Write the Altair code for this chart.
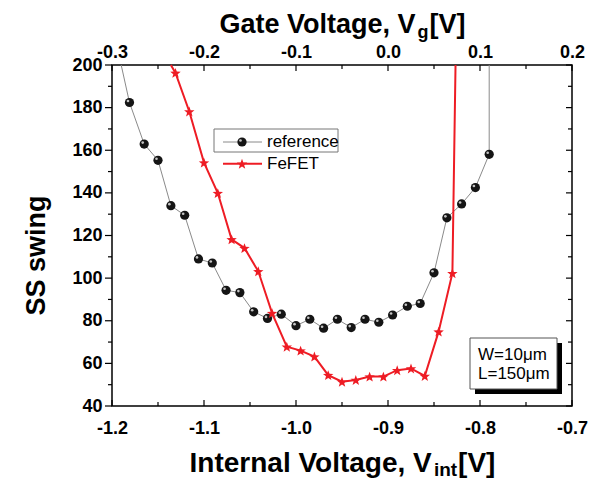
import math
import altair as alt
import pandas as pd

# ---------------- data ----------------
ref_x = [-1.181, -1.165, -1.150, -1.136, -1.121, -1.106, -1.091, -1.076, -1.061,
         -1.046, -1.031, -1.016, -1.000, -0.985, -0.970, -0.955, -0.940, -0.925,
         -0.910, -0.895, -0.879, -0.865, -0.850, -0.836, -0.820, -0.805, -0.790]
ref_y = [182.4, 162.9, 155.3, 134.0, 129.5, 109.0, 107.1, 94.3, 93.2,
         84.2, 81.1, 83.1, 77.7, 80.7, 76.5, 80.7, 76.8, 80.7,
         79.3, 82.7, 86.8, 88.1, 102.5, 128.3, 134.8, 142.5, 158.1]
ref_line_start = [-1.190, 200.0]
ref_line_end = [-0.790, 200.0]

fefet_x = [-1.131, -1.116, -1.100, -1.085, -1.070, -1.056, -1.041, -1.026, -1.010,
           -0.995, -0.980, -0.965, -0.950, -0.935, -0.920, -0.905, -0.890, -0.875,
           -0.860, -0.845, -0.830]
fefet_y = [196.3, 178.2, 154.2, 139.9, 118.2, 114.1, 103.2, 83.6, 67.8,
           66.0, 63.2, 54.5, 51.4, 52.2, 53.8, 53.8, 56.8, 57.6,
           54.1, 74.9, 102.3]
fefet_line_start = [-1.136, 200.0]
fefet_line_end = [-0.8266, 200.0]

series_names = ["reference", "FeFET"]
x_major = [-1.2, -1.1, -1.0, -0.9, -0.8, -0.7]
x_minor = [-1.15, -1.05, -0.95, -0.85, -0.75]
y_major = [40, 60, 80, 100, 120, 140, 160, 180, 200]
y_minor = [50, 70, 90, 110, 130, 150, 170, 190]
gate_offset = 0.9  # top axis: Vg = Vint + 0.9
box_lines = ["W=10\u03bcm", "L=150\u03bcm"]

# ---------------- layout / style ----------------
W, H = 460, 341
FONT = "Liberation Sans"
RED = "#ee1c24"
GREY = "#8a8a8a"
xs = alt.Scale(domain=[-1.2, -0.7], nice=False, zero=False)
ys = alt.Scale(domain=[40, 200], nice=False, zero=False)

# Arial-bold advance widths (em) for title layout
AW = {"I": .278, "n": .611, "t": .333, "e": .556, "r": .389, "a": .556, "l": .278,
      " ": .278, "V": .667, "o": .611, "g": .611, ",": .278, "G": .778, "i": .278,
      "[": .333, "]": .333}


def tw(s, size):
    return sum(AW.get(c, .6) for c in s) * size


def text_layer(s, x, y, size, weight="normal", align="left", baseline="alphabetic", angle=0):
    kw = dict(align=align, baseline=baseline, font=FONT, fontSize=size,
              fontWeight=weight, color="black")
    if angle:
        kw["angle"] = angle
    return alt.Chart(pd.DataFrame({"t": [s]})).mark_text(**kw).encode(
        x=alt.value(x), y=alt.value(y), text="t:N")


def sub_title(main, sub, tail, center, base, size, subsize, subdrop):
    w1 = tw(main, size)
    w2 = tw(sub, subsize)
    w3 = tw(tail, size)
    x0 = center - (w1 + w2 + w3) / 2
    return [
        text_layer(main, x0, base, size, "bold"),
        text_layer(sub, x0 + w1, base + subdrop, subsize, "bold"),
        text_layer(tail, x0 + w1 + w2 + 1, base, size, "bold"),
    ]


label_common = dict(labelFont=FONT, labelFontWeight="bold", labelFontSize=18,
                    labelColor="black", ticks=False, domain=False, grid=False,
                    labelFlush=False, labelOverlap=False, title="")

# ---------------- data layers ----------------
ref_line_df = pd.DataFrame({
    "x": [ref_line_start[0]] + ref_x + [ref_line_end[0]],
    "y": [ref_line_start[1]] + ref_y + [ref_line_end[1]],
})
ref_line_df["i"] = range(len(ref_line_df))
fe_line_df = pd.DataFrame({
    "x": [fefet_line_start[0]] + fefet_x + [fefet_line_end[0]],
    "y": [fefet_line_start[1]] + fefet_y + [fefet_line_end[1]],
})
fe_line_df["i"] = range(len(fe_line_df))
ref_pts = pd.DataFrame({"x": ref_x, "y": ref_y})
fe_pts = pd.DataFrame({"x": fefet_x, "y": fefet_y})

star_pts = []
for k in range(10):
    r = 1.0 if k % 2 == 0 else 0.42
    a = math.radians(-90 + 36 * k)
    star_pts.append(f"{r * math.cos(a):.3f},{r * math.sin(a) + 0.1:.3f}")
STAR = "M" + " L".join(star_pts) + " Z"

X = lambda f: alt.X(f, scale=xs, axis=None)
Y = lambda f: alt.Y(f, scale=ys, axis=None)

ref_line = alt.Chart(ref_line_df).mark_line(color=GREY, strokeWidth=1).encode(
    x=X("x:Q"), y=Y("y:Q"), order="i:Q")
fe_line = alt.Chart(fe_line_df).mark_line(color=RED, strokeWidth=2).encode(
    x=X("x:Q"), y=Y("y:Q"), order="i:Q")
ref_marks = alt.Chart(ref_pts).mark_point(shape="circle", filled=True, color="#151515",
                                          opacity=1, size=85).encode(x=X("x:Q"), y=Y("y:Q"))
ref_hl = alt.Chart(ref_pts).mark_point(shape="circle", filled=True, color="#d8d8d8",
                                       opacity=0.9, size=7, xOffset=-1.5, yOffset=-1.5).encode(
    x=X("x:Q"), y=Y("y:Q"))
fe_marks = alt.Chart(fe_pts).mark_point(shape=STAR, filled=True, color=RED, opacity=1,
                                        size=120).encode(x=X("x:Q"), y=Y("y:Q"))

# ---------------- ticks (through the scales) + axes ----------------
bottom_major = alt.Chart(pd.DataFrame({"v": x_major})).mark_rule(color="black", strokeWidth=1.2).encode(
    x=alt.X("v:Q", scale=xs, axis=alt.Axis(
        orient="bottom", values=x_major, labelPadding=13,
        labelExpr="replace(format(datum.value, '.1f'), '\u2212', '-')", **label_common)),
    y=alt.value(H), y2=alt.value(H - 6))
bottom_minor = alt.Chart(pd.DataFrame({"v": x_minor})).mark_rule(color="black", strokeWidth=1.2).encode(
    x=X("v:Q"), y=alt.value(H), y2=alt.value(H - 4))
top_major = alt.Chart(pd.DataFrame({"v": x_major})).mark_rule(color="black", strokeWidth=1.2).encode(
    x=alt.X("v:Q", scale=xs, axis=alt.Axis(
        orient="top", values=x_major, labelPadding=4,
        labelExpr="replace(format(round((datum.value + %s) * 10) / 10 + 0, '.1f'), '\u2212', '-')" % gate_offset,
        **label_common)),
    y=alt.value(0), y2=alt.value(6))
top_minor = alt.Chart(pd.DataFrame({"v": x_minor})).mark_rule(color="black", strokeWidth=1.2).encode(
    x=X("v:Q"), y=alt.value(0), y2=alt.value(4))
left_major = alt.Chart(pd.DataFrame({"v": y_major})).mark_rule(color="black", strokeWidth=1.2).encode(
    y=alt.Y("v:Q", scale=ys, axis=alt.Axis(orient="left", values=y_major, labelPadding=10,
                                           **label_common)),
    x=alt.value(-7), x2=alt.value(0))
left_minor = alt.Chart(pd.DataFrame({"v": y_minor})).mark_rule(color="black", strokeWidth=1.2).encode(
    y=Y("v:Q"), x=alt.value(-4), x2=alt.value(0))
right_major = alt.Chart(pd.DataFrame({"v": y_major})).mark_rule(color="black", strokeWidth=1.2).encode(
    y=Y("v:Q"), x=alt.value(W - 6), x2=alt.value(W))
right_minor = alt.Chart(pd.DataFrame({"v": y_minor})).mark_rule(color="black", strokeWidth=1.2).encode(
    y=Y("v:Q"), x=alt.value(W - 4), x2=alt.value(W))

# ---------------- titles ----------------
titles = []
titles += sub_title("Internal Voltage, V", "int", "[V]", W / 2, H + 66, 28, 19, 4)
titles += sub_title("Gate Voltage, V", "g", "[V]", W / 2, -32, 27, 18, 5)
titles.append(text_layer("SS swing", -67, H / 2 + 20, 27, "bold", align="center", angle=270))

# ---------------- legend ----------------
one = pd.DataFrame({"k": [0]})
leg = [
    alt.Chart(one).mark_rect(fill="white", fillOpacity=0, stroke="#777777", strokeWidth=1).encode(
        x=alt.value(102), x2=alt.value(226), y=alt.value(64), y2=alt.value(87)),
    alt.Chart(one).mark_rule(color=GREY, strokeWidth=1).encode(
        x=alt.value(111), x2=alt.value(150), y=alt.value(77)),
    alt.Chart(one).mark_point(shape="circle", filled=True, color="#151515", opacity=1, size=85).encode(
        x=alt.value(130), y=alt.value(77)),
    alt.Chart(one).mark_point(shape="circle", filled=True, color="#d8d8d8", opacity=0.9, size=7).encode(
        x=alt.value(128.5), y=alt.value(75.5)),
    text_layer(series_names[0], 155, 77, 17, baseline="middle"),
    alt.Chart(one).mark_rule(color=RED, strokeWidth=2).encode(
        x=alt.value(111), x2=alt.value(150), y=alt.value(98.7)),
    alt.Chart(one).mark_point(shape=STAR, filled=True, color=RED, opacity=1, size=120).encode(
        x=alt.value(130), y=alt.value(98.7)),
    text_layer(series_names[1], 155, 98.7, 17, baseline="middle"),
]

# ---------------- W/L box ----------------
bx0, bx1, by0, by1 = W - 102, W - 15, H - 68, H - 17
box = [
    alt.Chart(one).mark_rect(fill="black").encode(
        x=alt.value(bx0 + 5), x2=alt.value(bx1 + 5), y=alt.value(by0 + 5), y2=alt.value(by1 + 5)),
    alt.Chart(one).mark_rect(fill="white", stroke="#555555", strokeWidth=1).encode(
        x=alt.value(bx0), x2=alt.value(bx1), y=alt.value(by0), y2=alt.value(by1)),
    text_layer(box_lines[0], bx0 + 8, by0 + 22, 17),
    text_layer(box_lines[1], bx0 + 8, by0 + 41, 17),
]

chart = alt.layer(
    ref_line, fe_line, ref_marks, ref_hl, fe_marks,
    bottom_major, bottom_minor, top_major, top_minor,
    left_major, left_minor, right_major, right_minor,
    *titles, *leg, *box,
).properties(
    width=W, height=H,
    autosize=alt.AutoSizeParams(type="none"),
    padding={"left": 104, "top": 57, "right": 16, "bottom": 73},
).resolve_axis(x="independent", y="independent").configure_view(stroke="black", strokeWidth=1.5)

chart.save("out.html", embed_options={"renderer": "svg", "actions": False})
